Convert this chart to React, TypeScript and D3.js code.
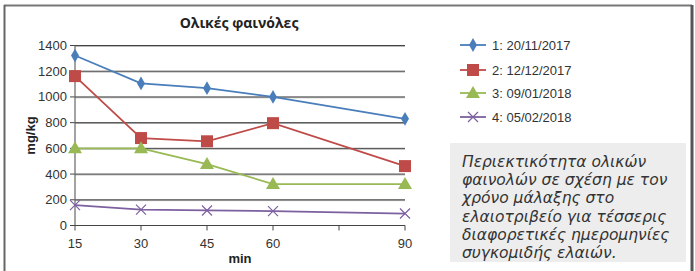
import React from "react";
import * as d3 from "d3";

// τιμές από το διάγραμμα (mg/kg)
const minutes = [15, 30, 45, 60, 90];
const xTicks = [15, 30, 45, 60, 75, 90];
const xTickLabels = ["15", "30", "45", "60", "", "90"];
const yTicks = [0, 200, 400, 600, 800, 1000, 1200, 1400];

const series1 = [1322, 1105, 1068, 1000, 830];
const series2 = [1162, 680, 655, 796, 462];
const series3 = [600, 600, 478, 322, 322];
const series4 = [158, 124, 117, 112, 93];

const seriesNames = ["1: 20/11/2017", "2: 12/12/2017", "3: 09/01/2018", "4: 05/02/2018"];
const seriesColors = ["#4a7ebb", "#be4b48", "#98b954", "#7d60a0"];
const seriesMarkers = ["diamond", "square", "triangle", "cross"];

const captionLines = [
  "Περιεκτικότητα ολικών",
  "φαινολών σε σχέση με τον",
  "χρόνο μάλαξης στο",
  "ελαιοτριβείο για τέσσερις",
  "διαφορετικές ημερομηνίες",
  "συγκομιδής ελαιών.",
];

const W = 695;
const H = 271;
const left = 75;
const right = 405;
const top = 45.5;
const bottom = 225.5;

const Marker = ({ kind, x, y, color }: { kind: string; x: number; y: number; color: string }) => {
  if (kind === "diamond") {
    const p = d3.symbol(d3.symbolDiamond, 55)();
    return <path d={p || ""} transform={`translate(${x},${y})`} fill={color} />;
  }
  if (kind === "square") {
    return <rect x={x - 6} y={y - 6} width={12} height={12} fill={color} />;
  }
  if (kind === "triangle") {
    return <path d={`M${x},${y - 7}L${x + 7},${y + 5}L${x - 7},${y + 5}Z`} fill={color} />;
  }
  return (
    <path
      d={`M${x - 5},${y - 5}L${x + 5},${y + 5}M${x - 5},${y + 5}L${x + 5},${y - 5}`}
      stroke={color}
      strokeWidth={1.2}
      fill="none"
    />
  );
};

export default function App() {
  const x = d3.scaleLinear().domain([15, 90]).range([left, right]);
  const y = d3.scaleLinear().domain([0, 1400]).range([bottom, top]);
  const allSeries = [series1, series2, series3, series4];
  const line = d3
    .line<number>()
    .x((_, i) => x(minutes[i]))
    .y((d) => y(d));

  const font = "'Liberation Sans', Arial, sans-serif";

  return (
    <svg
      width={W}
      height={H}
      style={{ position: "absolute", left: 0, top: 0, background: "#fff" }}
      fontFamily={font}
    >
      {/* πλαίσιο */}
      <line x1={4} y1={5.5} x2={692} y2={5.5} stroke="#777" strokeWidth={2} />
      <line x1={4.5} y1={5} x2={4.5} y2={H} stroke="#666" strokeWidth={2} />
      <line x1={692} y1={5} x2={692} y2={H} stroke="#555" strokeWidth={3} />

      <text x={239} y={28} textAnchor="middle" fontSize={14} fontWeight="bold" fill="#222" fontFamily="'Open Sans', sans-serif">
        Ολικές φαινόλες
      </text>

      {/* γραμμές πλέγματος */}
      {yTicks.map((t) => (
        <g key={t}>
          {t > 0 && (
            <line x1={left} x2={right} y1={y(t) + 0.8} y2={y(t) + 0.8} stroke="#aaa" strokeWidth={1} />
          )}
          <line x1={left} x2={right} y1={y(t)} y2={y(t)} stroke="#444" strokeWidth={1} />
          <line x1={left - 5} x2={left} y1={y(t)} y2={y(t)} stroke="#444" />
          <text x={67} y={y(t) + 4.5} textAnchor="end" fontSize={13} fill="#333">
            {t}
          </text>
        </g>
      ))}
      <line x1={left} x2={left} y1={top} y2={bottom} stroke="#666" strokeWidth={1.2} />
      {xTicks.map((t, i) => (
        <g key={t}>
          <line x1={x(t)} x2={x(t)} y1={bottom} y2={bottom + 5} stroke="#444" />
          <text x={x(t)} y={248} textAnchor="middle" fontSize={13} fill="#333">
            {xTickLabels[i]}
          </text>
        </g>
      ))}

      <text
        transform={`translate(35,${(top + bottom) / 2}) rotate(-90)`}
        textAnchor="middle"
        fontSize={13}
        fontWeight="bold"
        fill="#222"
      >
        mg/kg
      </text>
      <text x={240} y={263} textAnchor="middle" fontSize={13} fontWeight="bold" fill="#222">
        min
      </text>

      {/* σειρές */}
      {allSeries.map((s, si) => (
        <g key={si}>
          <path d={line(s) || ""} fill="none" stroke={seriesColors[si]} strokeWidth={1.8} />
          {s.map((v, i) => (
            <Marker key={i} kind={seriesMarkers[si]} x={x(minutes[i])} y={y(v)} color={seriesColors[si]} />
          ))}
        </g>
      ))}

      {/* υπόμνημα */}
      {seriesNames.map((name, i) => {
        const ly = [45, 70, 93, 117][i];
        return (
          <g key={name}>
            <line x1={460} x2={486} y1={ly} y2={ly} stroke={seriesColors[i]} strokeWidth={1.8} />
            <Marker kind={seriesMarkers[i]} x={473} y={ly} color={seriesColors[i]} />
            <text x={492} y={ly + 4.5} fontSize={13} fill="#333">
              {name}
            </text>
          </g>
        );
      })}

      {/* λεζάντα */}
      <rect x={450} y={143} width={236} height={119} fill="#ededed" />
      {captionLines.map((l, i) => (
        <text
          key={i}
          x={462}
          y={167 + i * 18.2}
          fontSize={15.5}
          fontStyle="italic"
          fill="#333"
          fontFamily="'DejaVu Sans', sans-serif"
        >
          {l}
        </text>
      ))}
    </svg>
  );
}
